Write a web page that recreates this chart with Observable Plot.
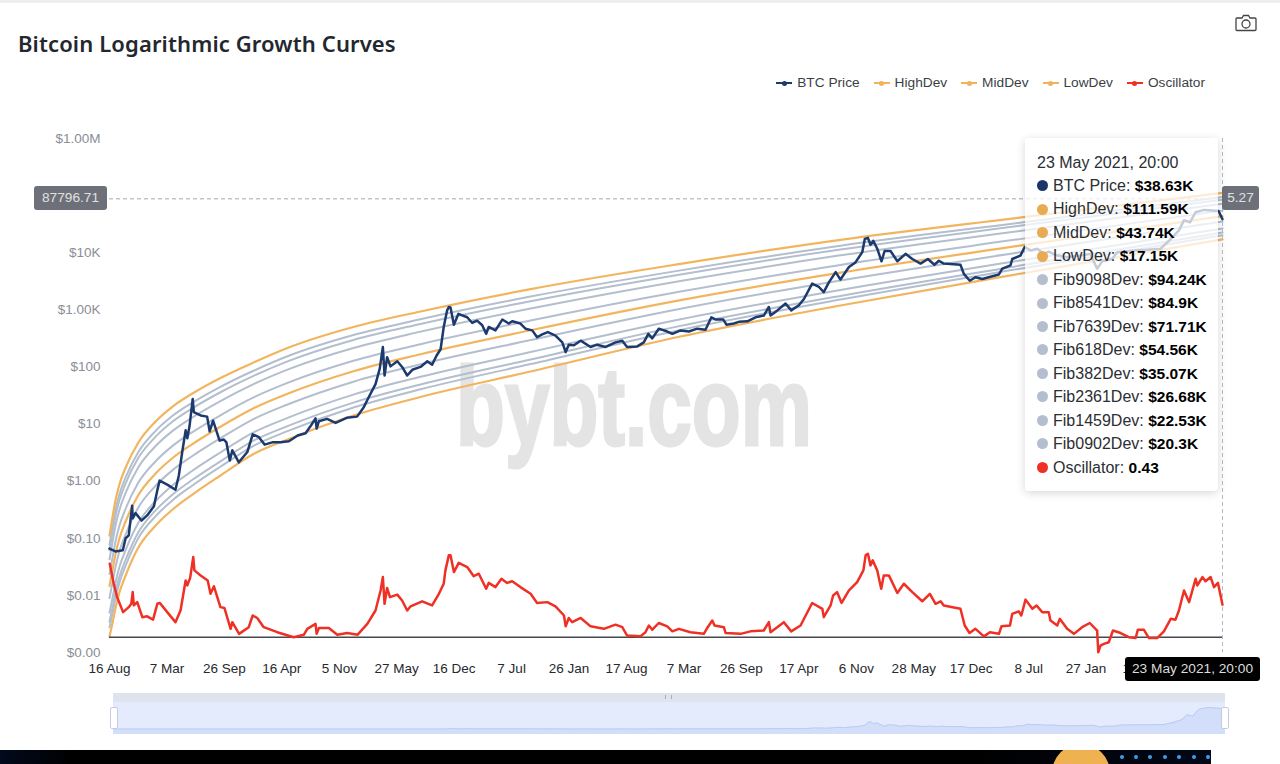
<!DOCTYPE html>
<html>
<head>
<meta charset="utf-8">
<script src="https://cdn.jsdelivr.net/npm/d3@7"></script>
<script src="https://cdn.jsdelivr.net/npm/@observablehq/plot@0.6"></script>
<style>
html,body{margin:0;padding:0;background:#fff;width:1280px;height:764px;overflow:hidden;font-family:"Liberation Sans",Arial,sans-serif}
#topbar{position:absolute;left:0;top:0;width:1280px;height:3px;background:#eeeeee}
#head{position:relative;height:100px}
#title{position:absolute;left:18px;top:27px;margin:0;font:600 22px "Noto Sans",sans-serif;letter-spacing:.12px;color:#23272e;line-height:32px;white-space:nowrap}
#legend{position:absolute;top:75px;right:75px;display:flex;gap:14px;font-size:13.7px;color:#3a3f47;line-height:16px}
#legend span.item{display:flex;align-items:center;gap:5px}
#legend i{position:relative;display:block;width:16px;height:2px}
#legend i:after{content:"";position:absolute;left:5.5px;top:-1.5px;width:5px;height:5px;border-radius:50%;background:inherit}
#chart{position:absolute;left:0;top:100px;width:1280px;height:590px;z-index:2}
#watermark{position:absolute;left:456px;top:342px;font:bold 112px "Liberation Sans",sans-serif;color:#e4e4e4;-webkit-text-stroke:3px #e4e4e4;line-height:130px;transform:scaleX(.715);transform-origin:0 0;white-space:nowrap;z-index:1}
.box{position:absolute;z-index:3;border-radius:3px;font-size:13.7px;text-align:center;height:24px;line-height:24px;white-space:nowrap}
#tip{position:absolute;z-index:4;left:1025px;top:138px;width:193px;height:353px;background:rgba(255,255,255,.74);border-radius:4px;box-shadow:0 2px 10px rgba(0,0,0,.16);box-sizing:border-box;padding-top:12.5px;font-size:16px;color:#2b2e33}
#tip div{height:23.47px;line-height:23.47px;padding-left:12px;white-space:nowrap}
#tip div.row{position:relative;padding-left:28px}
#tip b{color:#000;font-size:15.5px}
#tip i{position:absolute;left:12px;top:6.2px;width:11px;height:11px;border-radius:50%}
#sliderTrack{position:absolute;left:113px;top:693px;width:1112px;height:41px;background:#e4ebfc}
#sliderTop{position:absolute;left:113px;top:693px;width:1112px;height:9px;background:#dfe3ee}
#grip{position:absolute;left:665px;top:695px;width:7px;height:4px;border-left:1px solid #aab;border-right:1px solid #aab;box-sizing:border-box}
#slider{position:absolute;left:0;top:690px;width:1280px;height:46px}
.handle{position:absolute;top:707px;width:6px;height:20px;background:#fff;border:1px solid #c3cce2;border-radius:2px;z-index:3}
#banner{position:absolute;left:0;top:750px;width:1211px;height:14px;background:linear-gradient(90deg,#020a1c,#000 6%,#000 80%,#020817);overflow:hidden}
#coin{position:absolute;left:1052px;top:-6px;width:58px;height:58px;border-radius:50%;background:#eeb350}
.dot{position:absolute;top:5px;width:4px;height:4px;border-radius:50%;background:#3f9dec}
#camera{position:absolute;left:1235px;top:14px}
</style>
</head>
<body>
<div id="topbar"></div>
<div id="head">
  <h1 id="title">Bitcoin Logarithmic Growth Curves</h1>
  <div id="legend"></div>
  <svg id="camera" width="22" height="18" viewBox="0 0 22 18" fill="none" stroke="#444" stroke-width="1.3"><path d="M2 4h5l1.500-2.500h5L15 4h5a1 1 0 0 1 1 1v10.500a1 1 0 0 1-1 1H2a1 1 0 0 1-1-1V5a1 1 0 0 1 1-1z"/><circle cx="11" cy="10" r="4"/></svg>
</div>
<div id="watermark">bybt.com</div>
<div id="chart"></div>
<div id="sliderTrack"></div>
<div id="sliderTop"></div>
<div id="grip"></div>
<div id="slider"></div>
<div class="handle" style="left:110px"></div>
<div class="handle" style="left:1221px"></div>
<div id="banner"><div id="coin"></div></div>
<div id="tip"></div>

<script>
// ---- Time axis ----
const startDate = "2010-08-16";
const endDate = "2021-05-23";
const tickDates = ["2010-08-16","2011-03-07","2011-09-26","2012-04-16","2012-11-05","2013-05-27","2013-12-16","2014-07-07","2015-01-26","2015-08-17","2016-03-07","2016-09-26","2017-04-17","2017-11-06","2018-05-28","2018-12-17","2019-07-08","2020-01-27","2020-08-17"];
const tickLabels = ["16 Aug","7 Mar","26 Sep","16 Apr","5 Nov","27 May","16 Dec","7 Jul","26 Jan","17 Aug","7 Mar","26 Sep","17 Apr","6 Nov","28 May","17 Dec","8 Jul","27 Jan","17 Aug"];

// ---- Price axis ----
const priceTicks = [1e6,1e4,1e3,100,10,1,0.1,0.01,0.001];
const priceLabels = ["$1.00M","$10K","$1.00K","$100","$10","$1.00","$0.10","$0.01","$0.00"];

// ---- BTC price: days since 16 Aug 2010, log10(USD) ----
const btcDays = [0,21,47,57,68,74,80,82,92,113,133,157,169,177,204,233,245,257,269,275,283,294,298,322,345,354,366,389,404,413,425,434,457,487,506,528,548,575,604,634,665,693,710,728,732,740,769,799,838,875,899,916,940,955,966,972,981,993,1017,1034,1052,1070,1099,1123,1140,1156,1170,1181,1193,1199,1205,1217,1233,1264,1282,1299,1317,1331,1340,1364,1388,1411,1423,1452,1470,1494,1511,1529,1549,1576,1600,1612,1623,1641,1665,1700,1723,1753,1788,1812,1829,1865,1888,1904,1918,1941,1971,1989,2018,2047,2077,2106,2127,2142,2169,2180,2206,2224,2254,2283,2312,2330,2336,2360,2389,2409,2436,2454,2483,2507,2524,2542,2566,2583,2613,2636,2660,2669,2680,2689,2699,2713,2728,2739,2760,2784,2813,2837,2866,2892,2915,2931,2948,3007,3019,3040,3060,3084,3113,3143,3155,3184,3190,3219,3234,3255,3278,3302,3319,3349,3384,3431,3466,3490,3508,3543,3561,3619,3667,3714,3744,3779,3797,3818,3838,3868,3897,3919,3933];
const btcLog10 = [-1.18,-1.23,-1.21,-1.00,-.95,-.69,-.43,-.65,-.56,-.69,-.60,-.44,-.16,.01,-.06,-.15,.10,.51,.89,.75,.97,1.44,1.21,1.15,1.13,.87,1.06,.71,.73,.68,.36,.54,.33,.51,.82,.77,.64,.68,.68,.70,.80,.84,.96,1.10,.92,1.05,1.09,1.02,1.11,1.13,1.30,1.47,1.70,1.97,2.35,1.85,2.17,2.01,2.10,2.00,1.85,1.95,2.00,2.10,2.04,2.20,2.31,2.70,2.99,3.05,3.04,2.74,2.93,2.87,2.77,2.81,2.73,2.58,2.70,2.64,2.83,2.76,2.80,2.76,2.67,2.64,2.52,2.57,2.61,2.55,2.43,2.26,2.39,2.38,2.46,2.35,2.39,2.35,2.43,2.46,2.35,2.36,2.43,2.58,2.50,2.67,2.62,2.58,2.64,2.62,2.67,2.65,2.87,2.83,2.83,2.74,2.76,2.79,2.80,2.87,2.90,3.05,2.90,2.99,3.11,2.99,3.08,3.19,3.46,3.40,3.31,3.48,3.66,3.53,3.75,3.83,4.01,4.24,4.26,4.14,4.21,4.07,3.85,4.03,4.03,3.85,3.98,3.89,3.81,3.89,3.79,3.86,3.81,3.79,3.63,3.51,3.57,3.54,3.58,3.62,3.72,3.78,3.89,3.95,4.10,4.04,4.07,3.98,4.02,3.95,3.92,3.95,3.98,3.72,3.85,3.89,4.01,4.04,4.05,4.07,4.21,4.39,4.57,4.53,4.71,4.75,4.74,4.73,4.587];

// ---- Oscillator: days since 16 Aug 2010, value ----
const oscDays = [1,15,27,48,68,77,82,86,98,116,133,154,169,178,204,233,251,269,275,285,296,300,322,347,357,369,392,406,428,434,458,492,506,522,545,593,651,687,699,728,732,740,775,805,840,877,911,940,958,966,972,981,991,1017,1034,1052,1064,1105,1140,1164,1181,1187,1199,1205,1217,1234,1264,1287,1305,1331,1340,1364,1385,1405,1423,1452,1488,1511,1547,1576,1606,1612,1623,1635,1665,1700,1747,1788,1812,1829,1876,1894,1906,1918,1941,1971,1989,2012,2053,2100,2112,2130,2138,2171,2177,2230,2265,2312,2330,2336,2383,2409,2442,2483,2519,2524,2548,2557,2571,2587,2613,2642,2664,2672,2680,2689,2697,2713,2727,2736,2754,2784,2807,2837,2872,2899,2919,2937,2948,3007,3022,3039,3060,3090,3111,3143,3152,3182,3190,3213,3222,3237,3261,3276,3296,3319,3325,3349,3358,3384,3408,3437,3464,3490,3494,3502,3514,3531,3546,3573,3602,3626,3634,3655,3673,3702,3726,3750,3767,3779,3797,3815,3838,3844,3862,3873,3891,3903,3917,3933];
const oscValues = [.88,.64,.48,.30,.36,.40,.54,.38,.42,.24,.25,.21,.40,.41,.30,.18,.32,.68,.62,.71,.96,.80,.74,.68,.52,.61,.36,.35,.10,.18,.04,.12,.26,.23,.12,.06,0,.03,.10,.16,.04,.11,.11,.03,.05,.03,.16,.32,.56,.72,.40,.59,.48,.51,.44,.32,.37,.43,.38,.52,.64,.80,.98,.98,.78,.89,.84,.73,.76,.58,.65,.60,.70,.65,.67,.60,.52,.41,.42,.37,.26,.13,.23,.18,.23,.13,.10,.15,.12,.02,.01,.06,.14,.09,.17,.13,.07,.10,.06,.04,.11,.20,.14,.12,.05,.04,.07,.08,.18,.06,.18,.07,.14,.41,.34,.24,.38,.50,.54,.41,.56,.66,.80,.98,1.00,.86,.92,.80,.58,.74,.74,.53,.64,.54,.43,.52,.40,.43,.38,.34,.14,.05,.10,.01,.06,.04,.13,.14,.28,.31,.26,.45,.34,.38,.30,.30,.20,.14,.22,.10,.04,.12,.17,.08,-.18,-.10,-.08,-.06,.08,.05,0,-.01,.09,.09,-.01,-.01,.07,.22,.21,.32,.56,.42,.70,.62,.72,.67,.72,.60,.65,.39];

// ---- Growth curves: read at these days, log10(USD) ----
const curveDays = [0,11,21,35,57,102,163,223,293,392,509,629,862,1099,1488,2018,2583,3229,3933];
const highDev    = [-.952,-.619,-.339,-.059,.239,.677,1.045,1.307,1.534,1.806,2.078,2.332,2.699,2.971,3.363,3.806,4.226,4.622,5.048];
const fib9098Dev = [-1.111,-.786,-.510,-.230,.068,.511,.881,1.144,1.375,1.652,1.933,2.187,2.559,2.836,3.233,3.691,4.122,4.534,4.974];
const fib8541Dev = [-1.210,-.890,-.615,-.335,-.037,.409,.779,1.044,1.276,1.557,1.844,2.098,2.473,2.753,3.152,3.620,4.058,4.479,4.929];
const fib7639Dev = [-1.369,-1.057,-.785,-.505,-.207,.243,.615,.881,1.117,1.403,1.700,1.954,2.333,2.618,3.022,3.505,3.954,4.390,4.856];
const fib618Dev  = [-1.627,-1.328,-1.061,-.781,-.483,-.025,.349,.618,.859,1.154,1.466,1.720,2.107,2.399,2.812,3.320,3.787,4.247,4.737];
const midDev     = [-1.836,-1.547,-1.285,-1.005,-.706,-.242,.134,.406,.650,.953,1.277,1.531,1.925,2.223,2.642,3.170,3.651,4.132,4.641];
const fib382Dev  = [-2.045,-1.766,-1.508,-1.228,-.930,-.459,-.081,.193,.441,.751,1.087,1.342,1.742,2.046,2.471,3.019,3.515,4.016,4.545];
const fib2361Dev = [-2.303,-2.037,-1.784,-1.504,-1.206,-.728,-.347,-.070,.183,.502,.853,1.108,1.516,1.827,2.261,2.834,3.348,3.873,4.426];
const fib1459Dev = [-2.462,-2.204,-1.954,-1.674,-1.376,-.894,-.511,-.233,.024,.348,.709,.964,1.376,1.692,2.131,2.719,3.244,3.784,4.353];
const fib0902Dev = [-2.561,-2.308,-2.059,-1.779,-1.481,-.996,-.613,-.333,-.075,.253,.620,.875,1.290,1.609,2.050,2.648,3.180,3.729,4.307];
const lowDev     = [-2.720,-2.475,-2.230,-1.950,-1.652,-1.162,-.777,-.496,-.234,.099,.475,.730,1.150,1.474,1.920,2.533,3.076,3.641,4.234];

// ---- Tooltip and crosshair ----
const tipDate = "23 May 2021, 20:00";
const crosshairPrice = 87796.71;
const crosshairPriceLabel = "87796.71";
const crosshairOscLabel = "5.27";
const tipNames = ["BTC Price","HighDev","MidDev","LowDev","Fib9098Dev","Fib8541Dev","Fib7639Dev","Fib618Dev","Fib382Dev","Fib2361Dev","Fib1459Dev","Fib0902Dev","Oscillator"];
const tipValues = ["$38.63K","$111.59K","$43.74K","$17.15K","$94.24K","$84.9K","$71.71K","$54.56K","$35.07K","$26.68K","$22.53K","$20.3K","0.43"];
const tipColors = ["#1c3568","#e8ab54","#e8ab54","#e8ab54","#b5becf","#b5becf","#b5becf","#b5becf","#b5becf","#b5becf","#b5becf","#b5becf","#ee3124"];
const legendNames = ["BTC Price","HighDev","MidDev","LowDev","Oscillator"];
const legendColors = ["#1c3a6e","#f2b25a","#f2b25a","#f2b25a","#ee3124"];

// ---- Build tables ----
const parse = s => new Date(s + "T00:00:00Z");
const start = parse(startDate);
const dayToDate = d => d3.utcDay.offset(start, d);
const btc = btcDays.map((d, i) => ({date: dayToDate(d), price: 10 ** btcLog10[i]}));
const osc = oscDays.map((d, i) => ({date: dayToDate(d), value: oscValues[i]}));
const curveTable = values => curveDays.map((d, i) => ({date: dayToDate(d), price: 10 ** values[i]}));
const fibCurves = [fib9098Dev,fib8541Dev,fib7639Dev,fib618Dev,fib382Dev,fib2361Dev,fib1459Dev,fib0902Dev];
const devCurves = [highDev,midDev,lowDev];

// The oscillator has its own hidden linear axis sharing the plot area:
// map it onto the log price scale.
const oscToPrice = o => 10 ** (-2.732 + 1.462 * o);

const dates = tickDates.map(parse);
const labelByTime = new Map(dates.map((d, i) => [+d, tickLabels[i]]));
const labelByPrice = new Map(priceTicks.map((p, i) => [p, priceLabels[i]]));

const curveOpts = {x: "date", y: "price", curve: "monotone-x"};

const chart = Plot.plot({
  width: 1280, height: 590,
  marginLeft: 109, marginRight: 58, marginTop: 38, marginBottom: 38,
  style: {background: "transparent", fontFamily: "'Liberation Sans',Arial,sans-serif", fontSize: "13.5px"},
  x: {type: "utc", domain: [parse(startDate), parse(endDate)]},
  y: {type: "log", domain: [0.001, 1e6]},
  marks: [
    Plot.axisY(priceTicks, {anchor: "left", tickSize: 0, tickPadding: 9, color: "#8a8e96", tickFormat: d => labelByPrice.get(d), label: null}),
    Plot.axisX(dates, {anchor: "bottom", tickSize: 0, tickPadding: 11, color: "#26292e", tickFormat: d => labelByTime.get(+d), label: null}),
    Plot.ruleX([parse(endDate)], {stroke: "#b5b9cc", strokeDasharray: "4,3", strokeWidth: 1}),
    Plot.ruleY([crosshairPrice], {stroke: "#a8a8a8", strokeDasharray: "4,3", strokeWidth: 1}),
    ...fibCurves.map(c => Plot.line(curveTable(c), {...curveOpts, stroke: "#b3bece", strokeWidth: 2})),
    ...devCurves.map(c => Plot.line(curveTable(c), {...curveOpts, stroke: "#f2b55f", strokeWidth: 2.2})),
    Plot.ruleY([oscToPrice(0)], {stroke: "#45484d", strokeWidth: 1.4}),
    Plot.line(btc, {x: "date", y: "price", stroke: "#1c3a6e", strokeWidth: 2.5, strokeLinejoin: "round"}),
    Plot.line(osc, {x: "date", y: d => oscToPrice(d.value), stroke: "#ee3124", strokeWidth: 2.5, strokeLinejoin: "round"})
  ]
});
document.getElementById("chart").append(chart);

// Navigator strip under the chart
const slider = Plot.plot({
  width: 1280, height: 46,
  marginLeft: 113, marginRight: 55, marginTop: 17, marginBottom: 2,
  style: {background: "transparent"},
  x: {type: "utc", domain: [parse(startDate), parse(endDate)], axis: null},
  y: {domain: [-14300, 56200], axis: null},
  marks: [
    Plot.areaY(btc, {x: "date", y1: -14300, y2: "price", fill: "#d3dffa"}),
    Plot.line(btc, {x: "date", y: "price", stroke: "#b9cbf6", strokeWidth: 1})
  ]
});
document.getElementById("slider").append(slider);

// Legend
const legend = document.getElementById("legend");
legendNames.forEach((n, i) => {
  const s = document.createElement("span");
  s.className = "item";
  s.innerHTML = `<i style="background:${legendColors[i]}"></i>${n}`;
  legend.append(s);
});

// Tooltip
const tip = document.getElementById("tip");
tip.innerHTML = `<div>${tipDate}</div>` + tipNames.map((n, i) =>
  `<div class="row"><i style="background:${tipColors[i]}"></i>${n}: <b>${tipValues[i]}</b></div>`).join("");

// Crosshair labels
function box(text, style) {
  const b = document.createElement("div");
  b.className = "box";
  b.textContent = text;
  b.style.cssText = style;
  document.body.append(b);
}
box(crosshairPriceLabel, "left:34px;top:186px;width:73px;background:#6e7079;color:#e0e0e0");
box(crosshairOscLabel, "left:1222px;top:186px;width:37px;background:#6e7079;color:#e0e0e0");
box(tipDate, "left:1125px;top:657px;width:135px;background:#000;color:#ddd");

// Footer strip
const banner = document.getElementById("banner");
[1122,1136,1150,1165,1179,1194,1208].forEach(x => {
  const d = document.createElement("div");
  d.className = "dot";
  d.style.left = (x - 2) + "px";
  banner.append(d);
});
</script>
</body>
</html>
